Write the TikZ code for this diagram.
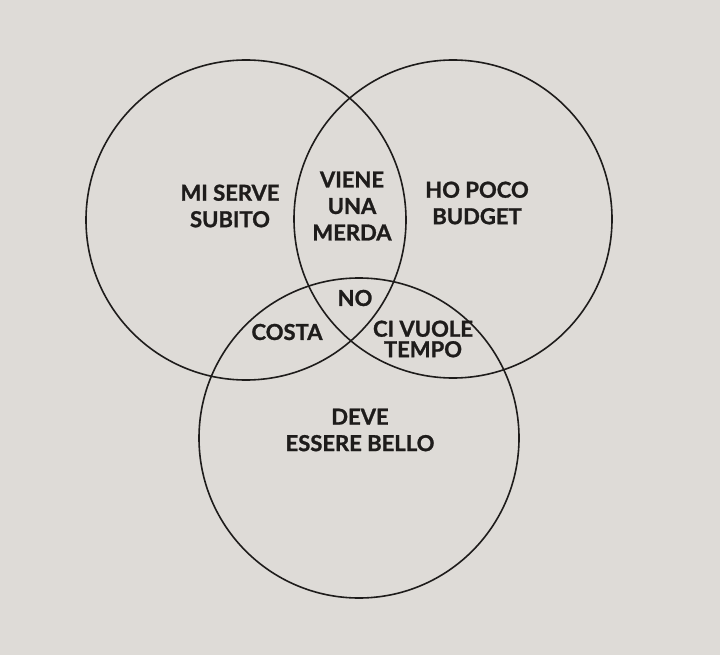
\documentclass[tikz,border=0pt]{standalone}
\usepackage{fontspec}
\setmainfont{Lato}[BoldFeatures={FakeBold=1.2}]
\definecolor{paper}{RGB}{222,219,215}
\definecolor{ink}{RGB}{30,28,27}
\tikzset{
  ring/.style={draw=ink, line width=1.6pt},
  label/.style={text=ink, align=center, font=\fontsize{22}{26.5}\selectfont\bfseries, inner sep=0pt},
  tight/.style={text=ink, align=center, font=\fontsize{22}{20.5}\selectfont\bfseries, inner sep=0pt}
}
\begin{document}
\begin{tikzpicture}[x=1pt,y=-1pt]
\fill[paper] (0,0) rectangle (720,655);
\useasboundingbox (0,0) rectangle (720,655);
\coordinate (cl) at (246,220);
\coordinate (cr) at (453,219);
\coordinate (cb) at (359,438);
\draw[ring] (cl) circle[radius=160];
\draw[ring] (cr) circle[radius=159];
\draw[ring] (cb) circle[radius=160];
\node[label] (serve) at (230,206) {MI SERVE\\SUBITO};
\node[label] (merda) at (352,206) {VIENE\\UNA\\MERDA};
\node[label] (budget) at (477,203) {HO POCO\\BUDGET};
\node[label] (no) at (355,298) {NO};
\node[label] (costa) at (287,332) {COSTA};
\node[tight] (tempo) at (423,339) {CI VUOLE\\TEMPO};
\node[label] (bello) at (360,430) {DEVE\\ESSERE BELLO};
\end{tikzpicture}
\end{document}
